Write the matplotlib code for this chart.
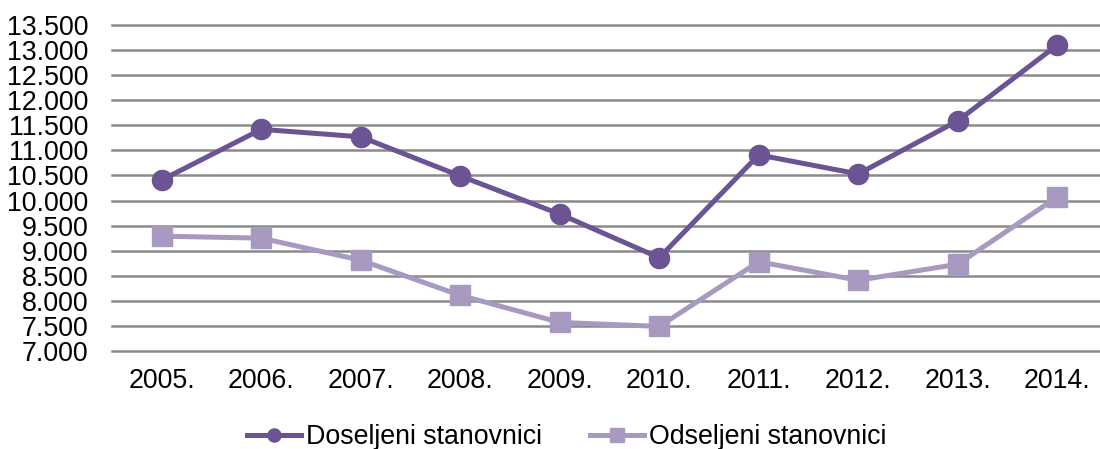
import matplotlib
matplotlib.use("Agg")
import matplotlib.pyplot as plt

years = ["2005.", "2006.", "2007.", "2008.", "2009.", "2010.", "2011.", "2012.", "2013.", "2014."]
doseljeni = [10410, 11420, 11270, 10490, 9730, 8860, 10910, 10530, 11590, 13100]
odseljeni = [9290, 9250, 8810, 8110, 7570, 7490, 8780, 8410, 8730, 10070]
yticks = list(range(7000, 13501, 500))
ytick_labels = [f"{v:,}".replace(",", ".") for v in yticks]

plt.rcParams['font.family'] = ['Liberation Sans', 'DejaVu Sans']

fig = plt.figure(figsize=(11, 4.49), dpi=100)
ax = fig.add_axes([112/1100, 1-351/449, 995/1100, (351-25)/449])

dark = "#6B5394"
light = "#A899C1"
x = list(range(len(years)))
ax.plot(x, doseljeni, color=dark, lw=3.6, marker="o", ms=14.5, label="Doseljeni stanovnici", zorder=3)
ax.plot(x, odseljeni, color=light, lw=3.6, marker="s", ms=14.5, label="Odseljeni stanovnici", zorder=3)

ax.set_xlim(-0.5, len(years) - 0.5)
ax.set_ylim(7000, 13500)
ax.set_yticks(yticks)
ax.set_yticklabels(ytick_labels)
ax.set_xticks(x)
ax.set_xticklabels(years)
ax.yaxis.grid(True, color="#8A8A8A", lw=1.8)
for gl in ax.get_ygridlines():
    gl.set_clip_on(False)
ax.set_axisbelow(True)
for s in ax.spines.values():
    s.set_visible(False)
ax.tick_params(axis="both", length=0, labelsize=19.3)
ax.tick_params(axis="y", pad=17)
ax.tick_params(axis="x", pad=12)

leg = fig.legend(loc="center", bbox_to_anchor=(567/1100, 1-437/449), ncol=2, frameon=False,
                 fontsize=19.3, handlelength=2.0, columnspacing=1.8, handletextpad=0.2,
                 markerscale=0.65)

fig.savefig("out.png", dpi=100)
